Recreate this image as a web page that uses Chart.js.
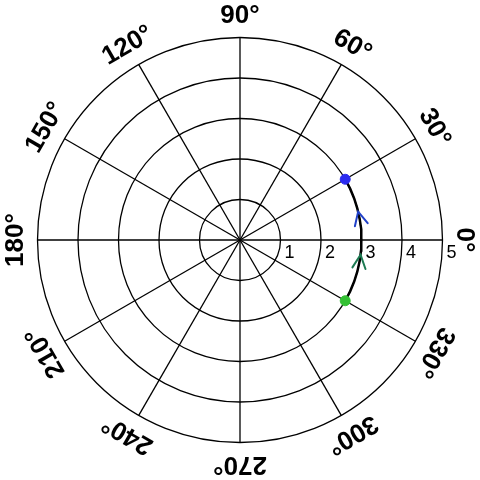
<!DOCTYPE html>
<html>
<head>
<meta charset="utf-8">
<script src="https://cdn.jsdelivr.net/npm/chart.js@4"></script>
<style>
  html, body { margin: 0; padding: 0; background: #fff; }
  #wrap { width: 480px; height: 480px; }
</style>
</head>
<body>
<div id="wrap"><canvas id="myChart" width="480" height="480"></canvas></div>
<script>
// polar data: angles in degrees, radii in plot units
const arcTheta = [-30, -25, -20, -15, -10, -5, 0, 5, 10, 15, 20, 25, 30];
const arcR = [3, 3, 3, 3, 3, 3, 3, 3, 3, 3, 3, 3, 3];
const markerTheta = [30, -30];
const markerR = [3, 3];
const markerColors = ['#2b2bf0', '#33c033'];
const arrowTheta = [13.5, -7];
const arrowR = [3, 3];
const arrowColors = ['#2040c8', '#1c7a52'];
const ringTicks = [1, 2, 3, 4, 5];
const angleTicks = [0, 30, 60, 90, 120, 150, 180, 210, 240, 270, 300, 330];

const rad = d => d * Math.PI / 180;
const toXY = (r, t) => ({ x: r * Math.cos(rad(t)), y: r * Math.sin(rad(t)) });

const arcPoints = arcTheta.map((t, i) => toXY(arcR[i], t));
const markerPoints = markerTheta.map((t, i) => toXY(markerR[i], t));

const polarGrid = {
    id: 'polarGrid',
    beforeDatasetsDraw(chart) {
        const ctx = chart.ctx;
        const xs = chart.scales.x, ys = chart.scales.y;
        const cx = xs.getPixelForValue(0), cy = ys.getPixelForValue(0);
        const unit = xs.getPixelForValue(1) - cx;
        const rMax = ringTicks[ringTicks.length - 1];

        ctx.save();
        ctx.strokeStyle = '#000';
        ctx.lineWidth = 1.3;
        ringTicks.forEach(r => {
            ctx.beginPath();
            ctx.arc(cx, cy, r * unit, 0, Math.PI * 2);
            ctx.stroke();
        });
        angleTicks.forEach(t => {
            const p = toXY(rMax, t);
            ctx.beginPath();
            ctx.moveTo(cx, cy);
            ctx.lineTo(xs.getPixelForValue(p.x), ys.getPixelForValue(p.y));
            ctx.stroke();
        });

        // radial tick labels
        ctx.fillStyle = '#000';
        ctx.font = '18px "Liberation Sans", Arial, sans-serif';
        ctx.textAlign = 'left';
        ctx.textBaseline = 'top';
        ringTicks.forEach(r => {
            ctx.fillText(String(r), xs.getPixelForValue(r) + 4, cy + 4);
        });

        // angle labels, rotated along the tangent
        ctx.font = 'bold 26px "Liberation Sans", Arial, sans-serif';
        ctx.textAlign = 'center';
        ctx.textBaseline = 'middle';
        const labelR = rMax * unit + 23;
        angleTicks.forEach(t => {
            const lx = cx + labelR * Math.cos(rad(t));
            const ly = cy - labelR * Math.sin(rad(t));
            ctx.save();
            ctx.translate(lx, ly);
            ctx.rotate(rad(90 - t));
            ctx.fillText(t + '\u00b0', 0, 1);
            ctx.restore();
        });
        ctx.restore();
    },
    afterDatasetsDraw(chart) {
        const ctx = chart.ctx;
        const xs = chart.scales.x, ys = chart.scales.y;
        ctx.save();
        ctx.lineWidth = 2;
        ctx.lineCap = 'round';
        arrowTheta.forEach((t, i) => {
            const p = toXY(arrowR[i], t);
            const px = xs.getPixelForValue(p.x), py = ys.getPixelForValue(p.y);
            // direction of travel (counter-clockwise) in pixel space
            const dir = Math.atan2(-Math.cos(rad(t)), -Math.sin(rad(t)));
            const len = 15, spread = rad(26);
            ctx.strokeStyle = arrowColors[i];
            ctx.beginPath();
            ctx.moveTo(px - len * Math.cos(dir - spread), py - len * Math.sin(dir - spread));
            ctx.lineTo(px, py);
            ctx.lineTo(px - len * Math.cos(dir + spread), py - len * Math.sin(dir + spread));
            ctx.stroke();
        });
        ctx.restore();
    }
};

new Chart(document.getElementById('myChart'), {
    type: 'scatter',
    data: {
        datasets: [
            {
                data: arcPoints,
                showLine: true,
                borderColor: '#000',
                borderWidth: 2.5,
                pointRadius: 0,
                order: 2
            },
            {
                data: markerPoints,
                showLine: false,
                backgroundColor: markerColors,
                borderColor: markerColors,
                pointRadius: 5,
                order: 1
            }
        ]
    },
    options: {
        responsive: false,
        animation: false,
        layout: { padding: 37.5 },
        scales: {
            x: { type: 'linear', min: -5, max: 5, display: false },
            y: { type: 'linear', min: -5, max: 5, display: false }
        },
        plugins: {
            legend: { display: false },
            tooltip: { enabled: false }
        }
    },
    plugins: [polarGrid]
});
</script>
</body>
</html>
